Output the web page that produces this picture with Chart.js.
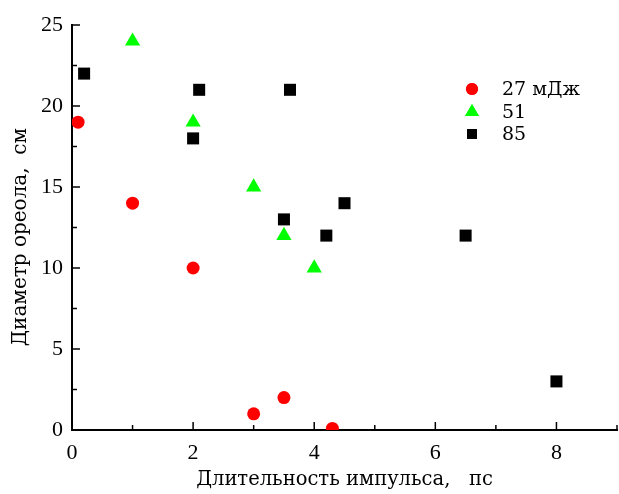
<!DOCTYPE html>
<html>
<head>
<meta charset="utf-8">
<script src="https://cdn.jsdelivr.net/npm/chart.js@4/dist/chart.umd.min.js"></script>
<style>
  html, body { margin: 0; padding: 0; background: #fff; }
  #wrap { width: 619px; height: 494px; }
</style>
</head>
<body>
<div id="wrap"><canvas id="c" width="619" height="494"></canvas></div>
<script>
// данные серий (длительность, пс ; диаметр, см)
const series27x = [0.1, 1, 2, 3, 3.5, 4.3];
const series27y = [19, 14, 10, 1, 2, 0.1];
const series51x = [1, 2, 3, 3.5, 4];
const series51y = [24, 19, 15, 12, 10];
const series85x = [0.2, 2, 2.1, 3.6, 3.5, 4.2, 4.5, 6.5, 8];
const series85y = [22, 18, 21, 21, 13, 12, 14, 12, 3];
const seriesLabels = ["27 мДж", "51", "85"];
const xTickLabels = [0, 2, 4, 6, 8];
const yTickLabels = [0, 5, 10, 15, 20, 25];

const FONT = "'Liberation Serif', 'DejaVu Serif', serif";
const FONT2 = "'DejaVu Serif', serif";

function pts(xs, ys) {
    return xs.map((x, i) => ({ x: x, y: ys[i] }));
}

// засечки внутрь области графика + легенда справа
const innerTicks = {
    id: "innerTicks",
    afterDraw(chart) {
        const ctx = chart.ctx;
        const xs = chart.scales.x;
        const ys = chart.scales.y;
        ctx.save();
        ctx.strokeStyle = "#000";
        ctx.lineWidth = 1.5;
        for (let v = 0; v <= 9; v += 1) {
            const px = xs.getPixelForValue(v);
            const len = xTickLabels.includes(v) ? 8 : 5;
            ctx.beginPath();
            ctx.moveTo(px, ys.bottom);
            ctx.lineTo(px, ys.bottom - len);
            ctx.stroke();
        }
        for (let v = 0; v <= 25; v += 2.5) {
            const py = ys.getPixelForValue(v);
            const len = yTickLabels.includes(v) ? 8 : 5;
            ctx.beginPath();
            ctx.moveTo(xs.left, py);
            ctx.lineTo(xs.left + len, py);
            ctx.stroke();
        }

        // легенда
        const rows = [89, 112, 134];
        chart.data.datasets.forEach((ds, i) => {
            const style = {
                pointStyle: ds.pointStyle,
                radius: ds.pointStyle === "circle" ? 6 : (ds.pointStyle === "rect" ? 7 : 8),
                rotation: 0,
                borderWidth: 0
            };
            ctx.fillStyle = ds.backgroundColor;
            Chart.helpers.drawPoint(ctx, style, 472, rows[i]);
            ctx.fill();
            ctx.fillStyle = "#000";
            ctx.font = "19px " + FONT2;
            ctx.textAlign = "left";
            ctx.textBaseline = "middle";
            ctx.fillText(ds.label, 502, rows[i] + 1);
        });
        ctx.restore();
    }
};

new Chart(document.getElementById("c"), {
    type: "scatter",
    data: {
        datasets: [
            {
                label: seriesLabels[0],
                data: pts(series27x, series27y),
                pointStyle: "circle",
                pointRadius: 6.5,
                backgroundColor: "#ff0000",
                borderWidth: 0
            },
            {
                label: seriesLabels[1],
                data: pts(series51x, series51y),
                pointStyle: "triangle",
                pointRadius: 8.8,
                backgroundColor: "#00ff00",
                borderWidth: 0
            },
            {
                label: seriesLabels[2],
                data: pts(series85x, series85y),
                pointStyle: "rect",
                pointRadius: 8.5,
                backgroundColor: "#000000",
                borderWidth: 0
            }
        ]
    },
    options: {
        responsive: false,
        animation: false,
        layout: { autoPadding: false, padding: { top: 25, right: 2, left: 0, bottom: 0 } },
        plugins: {
            legend: { display: false },
            tooltip: { enabled: false }
        },
        scales: {
            x: {
                type: "linear",
                min: 0,
                max: 9,
                grid: { display: false, drawTicks: false },
                border: { display: true, color: "#000", width: 2 },
                ticks: {
                    stepSize: 1,
                    autoSkip: false,
                    maxRotation: 0,
                    padding: 10,
                    color: "#000",
                    font: { family: FONT, size: 22 },
                    callback: (v) => (xTickLabels.includes(v) ? String(v) : "")
                },
                title: {
                    display: true,
                    text: "Длительность импульса,   пс",
                    color: "#000",
                    font: { family: FONT2, size: 19.5 },
                    padding: { top: 0, bottom: 2 }
                },
                afterFit(scale) {
                    scale.height = 64;
                    scale.paddingLeft = 0;
                    scale.paddingRight = 0;
                }
            },
            y: {
                type: "linear",
                min: 0,
                max: 25,
                grid: { display: false, drawTicks: false },
                border: { display: true, color: "#000", width: 2 },
                ticks: {
                    stepSize: 2.5,
                    autoSkip: false,
                    padding: 9,
                    color: "#000",
                    font: { family: FONT, size: 22 },
                    callback: (v) => (yTickLabels.includes(v) ? String(v) : "")
                },
                title: {
                    display: true,
                    text: "Диаметр ореола,  см   ",
                    color: "#000",
                    font: { family: FONT2, size: 20 },
                    padding: { top: 9, bottom: 0 }
                },
                afterFit(scale) { scale.width = 72; }
            }
        }
    },
    plugins: [innerTicks]
});
</script>
</body>
</html>
